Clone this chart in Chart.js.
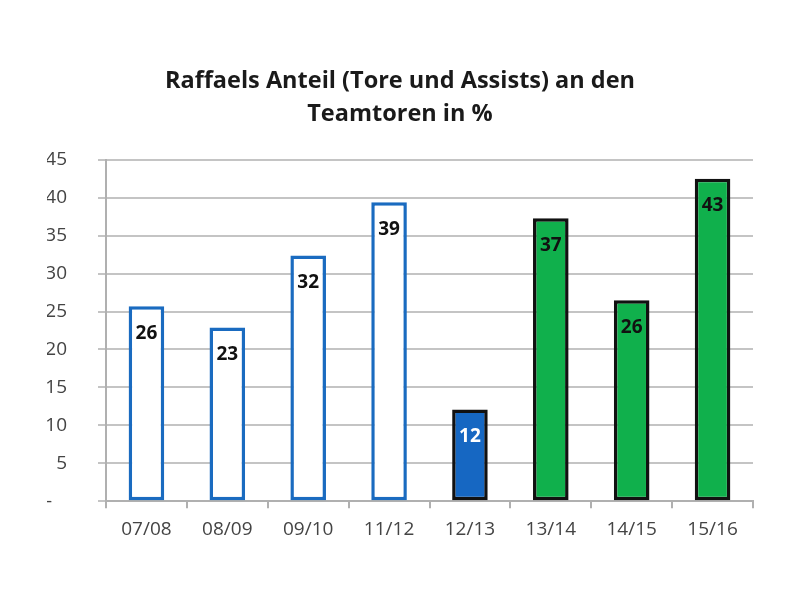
<!DOCTYPE HTML>
<html>
<head>
  <title>Raffaels Anteil</title>
  <script src="https://cdn.jsdelivr.net/npm/chart.js"></script>
  <style>
    body { margin: 0; background: #fff; }
    #wrap { width: 800px; height: 600px; }
  </style>
</head>
<body>
  <div id="wrap"><canvas id="myChart"></canvas></div>

  <script type="text/javascript">
    // data
    var seasons = ["07/08", "08/09", "09/10", "11/12", "12/13", "13/14", "14/15", "15/16"];
    var shares = [25.7, 22.9, 32.4, 39.4, 12.1, 37.3, 26.5, 42.5];
    var shareLabels = ["26", "23", "32", "39", "12", "37", "26", "43"];
    var yTicks = [0, 5, 10, 15, 20, 25, 30, 35, 40, 45];

    var fillColors   = ['#ffffff', '#ffffff', '#ffffff', '#ffffff', '#1667c2', '#10b04c', '#10b04c', '#10b04c'];
    var borderColors = ['#1a6bc0', '#1a6bc0', '#1a6bc0', '#1a6bc0', '#111111', '#111111', '#111111', '#111111'];
    var labelColors  = ['#111', '#111', '#111', '#111', '#fff', '#111', '#111', '#111'];

    var fontFam = '"Open Sans", Lato, sans-serif';

    // value labels inside the top of each bar
    var barLabelPlugin = {
      id: 'barLabelPlugin',
      afterDatasetsDraw: function (chart) {
        var c = chart.ctx;
        var meta = chart.getDatasetMeta(0);
        c.save();
        c.font = 'bold 19px ' + fontFam;
        c.textAlign = 'center';
        c.textBaseline = 'middle';
        meta.data.forEach(function (bar, i) {
          c.fillStyle = labelColors[i];
          c.fillText(shareLabels[i], bar.x, bar.y + 27);
        });
        c.restore();
      }
    };

    const ctx = document.getElementById('myChart');
    var myChart = new Chart(ctx, {
      type: 'bar',
      data: {
        labels: seasons,
        datasets: [{
          label: 'Anteil',
          data: shares,
          backgroundColor: fillColors,
          borderColor: borderColors,
          borderWidth: 3.5,
          borderSkipped: false,
          barPercentage: 0.44,
          categoryPercentage: 1.0
        }]
      },
      options: {
        responsive: true,
        maintainAspectRatio: false,
        animation: false,
        layout: { padding: { left: 47, right: 47, top: 65, bottom: 49 } },
        plugins: {
          legend: { display: false },
          tooltip: { enabled: false },
          title: {
            display: true,
            text: ['Raffaels Anteil (Tore und Assists) an den', 'Teamtoren in %'],
            color: '#1a1a1a',
            font: { family: fontFam, size: 23.5, weight: 'bold', lineHeight: 1.4 },
            padding: { top: 0, bottom: 29 }
          }
        },
        scales: {
          x: {
            grid: { drawOnChartArea: false, drawTicks: true, tickLength: 7, color: '#b0b0b0', lineWidth: 2 },
            border: { color: '#b0b0b0', width: 2 },
            ticks: { color: '#444', padding: 10, font: { family: fontFam, size: 19 } }
          },
          y: {
            min: 0,
            max: 45,
            afterFit: function (scale) { scale.width = 59; },
            afterBuildTicks: function (scale) {
              scale.ticks = yTicks.map(function (v) { return { value: v }; });
            },
            grid: { color: '#c4c4c4', lineWidth: 2, tickLength: 8 },
            border: { color: '#b0b0b0', width: 2 },
            ticks: {
              color: '#444',
              padding: 31,
              font: { family: fontFam, size: 19 },
              callback: function (v) { return v === 0 ? '-   ' : v; }
            }
          }
        }
      },
      plugins: [barLabelPlugin]
    });
  </script>
</body>
</html>
